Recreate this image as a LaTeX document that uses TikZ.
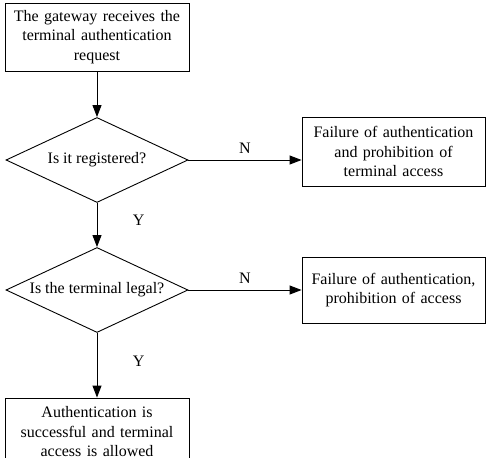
\documentclass[tikz,border=0pt]{standalone}
\usepackage{fontspec}
\setmainfont{Liberation Serif}
\usetikzlibrary{shapes.geometric,arrows.meta}
\begin{document}
\begin{tikzpicture}[x=1pt,y=-1pt,
        every node/.style={font=\fontsize{16}{19.5}\selectfont},
        box/.style={draw,line width=0.9pt,align=center,text width=172pt,minimum width=184pt,minimum height=68pt,inner sep=0pt},
        decision/.style={draw,diamond,line width=0.9pt,shape aspect=2.14,minimum width=182pt,minimum height=85pt,inner sep=0pt},
        arr/.style={line width=0.9pt,-{Triangle[length=12pt,width=9pt]}}]
    \useasboundingbox (0,0) rectangle (488,458);
    \node[box] (start) at (97,37) {The gateway receives the\\terminal authentication\\request};
    \node[decision] (reg) at (97,160) {Is it registered?};
    \node[box,minimum width=183pt,minimum height=69pt] (fail1) at (393.5,151.5) {Failure of authentication\\and prohibition of\\terminal access};
    \node[decision] (legal) at (97,290) {Is the terminal legal?};
    \node[box,minimum width=183pt,minimum height=66pt] (fail2) at (393.5,290) {Failure of authentication,\\prohibition of access};
    \node[box] (ok) at (97,432) {Authentication is\\successful and terminal\\access is allowed};
    \draw[arr] (start) -- (reg);
    \draw[arr] (reg.east) -- node[above=3pt] {N} (reg.east -| fail1.west);
    \draw[arr] (reg) -- node[right=32pt,yshift=5pt] {Y} (legal);
    \draw[arr] (legal.east) -- node[above=3pt] {N} (fail2.west);
    \draw[arr] (legal) -- node[right=32pt,yshift=4pt] {Y} (ok);
\end{tikzpicture}
\end{document}
